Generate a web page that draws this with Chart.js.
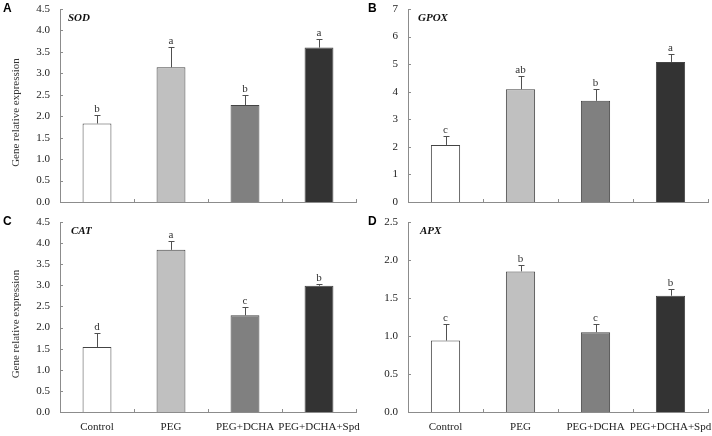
<!DOCTYPE html>
<html>
<head>
<meta charset="utf-8">
<script src="https://cdn.jsdelivr.net/npm/chart.js@4/dist/chart.umd.min.js"></script>
<style>
body { margin: 0; background: #fff; width: 712px; height: 436px; position: relative; overflow: hidden; }
.panel { position: absolute; }
</style>
</head>
<body>
<div class="panel" style="left:0;top:0;width:360px;height:212px"><canvas id="chartA"></canvas></div>
<div class="panel" style="left:360px;top:0;width:352px;height:212px"><canvas id="chartB"></canvas></div>
<div class="panel" style="left:0;top:212px;width:360px;height:224px"><canvas id="chartC"></canvas></div>
<div class="panel" style="left:360px;top:212px;width:352px;height:224px"><canvas id="chartD"></canvas></div>
<script>
const groups = ['Control', 'PEG', 'PEG+DCHA', 'PEG+DCHA+Spd'];
const barColors = ['#ffffff', '#c0c0c0', '#808080', '#333333'];

// SOD
const sodMean = [1.83, 3.14, 2.26, 3.60];
const sodErr = [0.21, 0.47, 0.24, 0.21];
const sodSig = ['b', 'a', 'b', 'a'];
// GPOX
const gpoxMean = [2.07, 4.09, 3.67, 5.08];
const gpoxErr = [0.31, 0.49, 0.44, 0.28];
const gpoxSig = ['c', 'ab', 'b', 'a'];
// CAT
const catMean = [1.54, 3.84, 2.29, 2.99];
const catErr = [0.32, 0.20, 0.20, 0.05];
const catSig = ['d', 'a', 'c', 'b'];
// APX
const apxMean = [0.94, 1.85, 1.05, 1.53];
const apxErr = [0.22, 0.08, 0.11, 0.09];
const apxSig = ['c', 'b', 'c', 'b'];

const serif = '"Liberation Serif", "Times New Roman", serif';
const axisColor = '#8c8c8c';

// error bars, letters, inward ticks, labels
const extras = {
    id: 'extras',
    afterDatasetsDraw(chart, args, o) {
        const ctx = chart.ctx;
        const area = chart.chartArea;
        const xs = chart.scales.x, ys = chart.scales.y;
        const bars = chart.getDatasetMeta(0).data;
        ctx.save();
        // ticks pointing into the plot
        ctx.strokeStyle = axisColor;
        ctx.lineWidth = 1;
        ctx.beginPath();
        ys.ticks.forEach((t, i) => {
            const py = Math.round(ys.getPixelForTick(i)) + 0.5;
            ctx.moveTo(area.left, py);
            ctx.lineTo(area.left + 3, py);
        });
        for (let i = 0; i <= groups.length; i++) {
            const px = Math.round(xs.getPixelForValue(i - 0.5)) + 0.5;
            ctx.moveTo(px, area.bottom);
            ctx.lineTo(px, area.bottom - 3);
        }
        ctx.stroke();

        // error bars
        ctx.strokeStyle = '#505050';
        ctx.beginPath();
        bars.forEach((bar, i) => {
            const px = Math.round(bar.x) + 0.5;
            const top = Math.round(ys.getPixelForValue(o.mean[i] + o.err[i])) + 0.5;
            ctx.moveTo(px, bar.y);
            ctx.lineTo(px, top);
            ctx.moveTo(px - 3, top);
            ctx.lineTo(px + 3, top);
        });
        ctx.stroke();

        // significance letters
        ctx.fillStyle = '#333';
        ctx.font = '11px ' + serif;
        ctx.textAlign = 'center';
        ctx.textBaseline = 'alphabetic';
        bars.forEach((bar, i) => {
            const top = ys.getPixelForValue(o.mean[i] + o.err[i]);
            ctx.fillText(o.sig[i], bar.x, top - 3);
        });

        // gene name
        ctx.font = 'bold italic 11px ' + serif;
        ctx.textAlign = 'left';
        ctx.textBaseline = 'middle';
        ctx.fillStyle = '#111';
        ctx.fillText(o.gene, area.left + o.geneDx, area.top + 9);

        // panel letter
        ctx.font = 'bold 12px "Liberation Sans", Arial, sans-serif';
        ctx.fillStyle = '#000';
        ctx.fillText(o.letter, o.letterX, area.top);

        // y title
        if (o.yTitle) {
            ctx.font = '11px ' + serif;
            ctx.fillStyle = '#333';
            ctx.textAlign = 'center';
            ctx.translate(16, (area.top + area.bottom) / 2 + 7);
            ctx.rotate(-Math.PI / 2);
            ctx.fillText('Gene relative expression', 0, 0);
        }
        ctx.restore();
    }
};

function panel(id, p) {
    new Chart(document.getElementById(id), {
        type: 'bar',
        data: {
            labels: groups,
            datasets: [{
                data: p.mean,
                backgroundColor: barColors,
                borderColor: '#444',
                borderWidth: 1,
                barPercentage: 0.39,
                categoryPercentage: 1
            }]
        },
        options: {
            responsive: true,
            maintainAspectRatio: false,
            animation: false,
            layout: { padding: { top: p.padTop, right: 4, left: 0, bottom: 0 } },
            plugins: {
                legend: { display: false },
                tooltip: { enabled: false },
                extras: p
            },
            scales: {
                x: {
                    grid: { display: false, drawTicks: false },
                    border: { display: true, color: axisColor },
                    ticks: {
                        display: p.xLabels, padding: 9, color: '#222',
                        maxRotation: 0, minRotation: 0, autoSkip: false,
                        font: { family: serif, size: 11 }
                    },
                    afterFit: s => {
                        s.height = p.xHeight;
                        s.paddingLeft = 0; s.paddingRight = 0;
                    }
                },
                y: {
                    min: 0,
                    max: p.max,
                    grid: { display: false, drawTicks: false },
                    border: { display: true, color: axisColor },
                    ticks: {
                        stepSize: p.step,
                        padding: 10,
                        color: '#222',
                        font: { family: serif, size: 11 },
                        callback: v => v.toFixed(p.dec)
                    },
                    afterFit: s => {
                        s.width = p.yWidth;
                        s.paddingTop = 0; s.paddingBottom = 0;
                    }
                }
            }
        },
        plugins: [extras]
    });
}

panel('chartA', { mean: sodMean, err: sodErr, sig: sodSig, gene: 'SOD', letter: 'A', letterX: 3, geneDx: 8,
    max: 4.5, step: 0.5, dec: 1, padTop: 9, xHeight: 10, yWidth: 60, xLabels: false, yTitle: true });
panel('chartB', { mean: gpoxMean, err: gpoxErr, sig: gpoxSig, gene: 'GPOX', letter: 'B', letterX: 8, geneDx: 10,
    max: 7, step: 1, dec: 0, padTop: 9, xHeight: 10, yWidth: 48, xLabels: false, yTitle: false });
panel('chartC', { mean: catMean, err: catErr, sig: catSig, gene: 'CAT', letter: 'C', letterX: 3, geneDx: 11,
    max: 4.5, step: 0.5, dec: 1, padTop: 10, xHeight: 24, yWidth: 60, xLabels: true, yTitle: true });
panel('chartD', { mean: apxMean, err: apxErr, sig: apxSig, gene: 'APX', letter: 'D', letterX: 8, geneDx: 12,
    max: 2.5, step: 0.5, dec: 1, padTop: 10, xHeight: 24, yWidth: 48, xLabels: true, yTitle: false });
</script>
</body>
</html>
